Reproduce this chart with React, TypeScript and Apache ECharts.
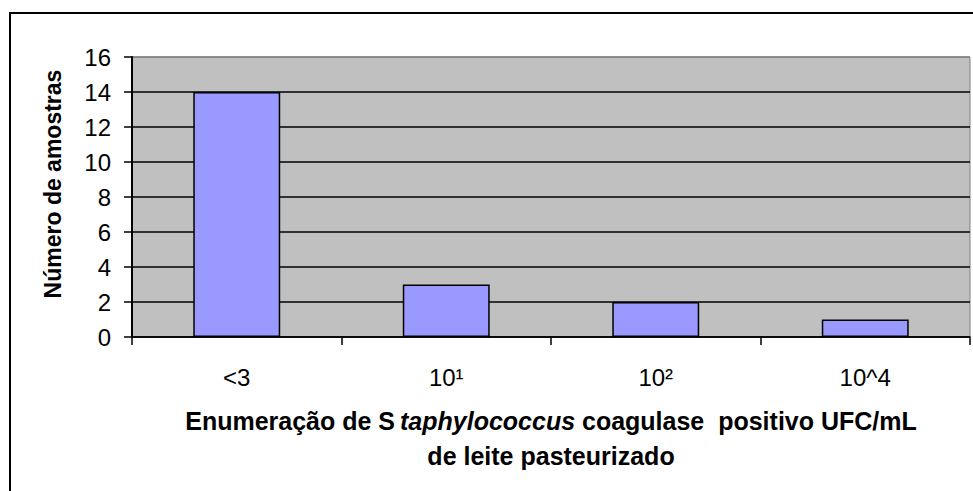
import React, { useEffect, useRef } from "react";
import * as echarts from "echarts";

const categories = ["<3", "10¹", "10²", "10^4"];
const amostras = [14, 3, 2, 1];
const yTicks = [0, 2, 4, 6, 8, 10, 12, 14, 16];
const yAxisTitle = "Número de amostras";
const xAxisTitleLine1 = "Enumeração de S{i|taphylococcus} coagulase  positivo UFC/mL";
const xAxisTitleLine2 = "de leite pasteurizado";

const FONT = 'Arial, "Liberation Sans", sans-serif';

export default function App() {
  const ref = useRef<HTMLDivElement>(null);
  useEffect(() => {
    if (!ref.current) return;
    const chart = echarts.init(ref.current, undefined, { renderer: "svg" });
    const splitColors = yTicks.map((t, i) => (i === yTicks.length - 1 ? "#808080" : "#000000"));
    chart.setOption({
      animation: false,
      backgroundColor: "#ffffff",
      textStyle: { fontFamily: FONT },
      graphic: [
        {
          type: "rect",
          shape: { x: 10, y: 13, width: 1000, height: 500 },
          style: { fill: "none", stroke: "#000000", lineWidth: 2 },
          z: 100,
        },
      ],
      grid: {
        left: 132,
        top: 57,
        right: 3,
        bottom: 154,
        show: true,
        backgroundColor: "#C0C0C0",
        borderColor: "#808080",
        borderWidth: 1,
      },
      xAxis: {
        type: "category",
        data: categories,
        name: xAxisTitleLine1 + "\n" + xAxisTitleLine2,
        nameLocation: "middle",
        nameGap: 66,
        nameTextStyle: {
          fontFamily: FONT,
          fontSize: 25,
          fontWeight: "bold",
          color: "#000",
          lineHeight: 35,
          rich: {
            i: {
              fontFamily: FONT,
              fontSize: 25,
              fontWeight: "bold",
              fontStyle: "italic",
              color: "#000",
              lineHeight: 35,
              padding: [0, 0, 0, 5],
            },
          },
        },
        axisLine: { show: true, lineStyle: { color: "#000", width: 1.5 } },
        axisTick: { show: true, length: 8, alignWithLabel: false, lineStyle: { color: "#000", width: 1.5 } },
        axisLabel: { fontFamily: FONT, fontSize: 24, color: "#000", margin: 28 },
        splitLine: { show: false },
      },
      yAxis: {
        type: "value",
        min: 0,
        max: 16,
        interval: 2,
        name: yAxisTitle,
        nameLocation: "middle",
        nameGap: 68,
        nameTextStyle: {
          fontFamily: FONT,
          fontSize: 23,
          fontWeight: "bold",
          color: "#000",
          padding: [0, 0, 0, 26],
        },
        axisLine: { show: true, lineStyle: { color: "#000", width: 2 } },
        axisTick: { show: true, length: 8, lineStyle: { color: "#000", width: 1.5 } },
        axisLabel: { fontFamily: FONT, fontSize: 24, color: "#000", margin: 21 },
        splitLine: { show: true, lineStyle: { color: splitColors, width: 1.5 } },
      },
      series: [
        {
          type: "bar",
          data: amostras,
          barWidth: "41.5%",
          itemStyle: { color: "#9999FF", borderColor: "#000", borderWidth: 1.5 },
        },
      ],
    });
    return () => chart.dispose();
  }, []);
  return (
    <div
      ref={ref}
      style={{ position: "fixed", left: 0, top: 0, width: 973, height: 491 }}
    />
  );
}
